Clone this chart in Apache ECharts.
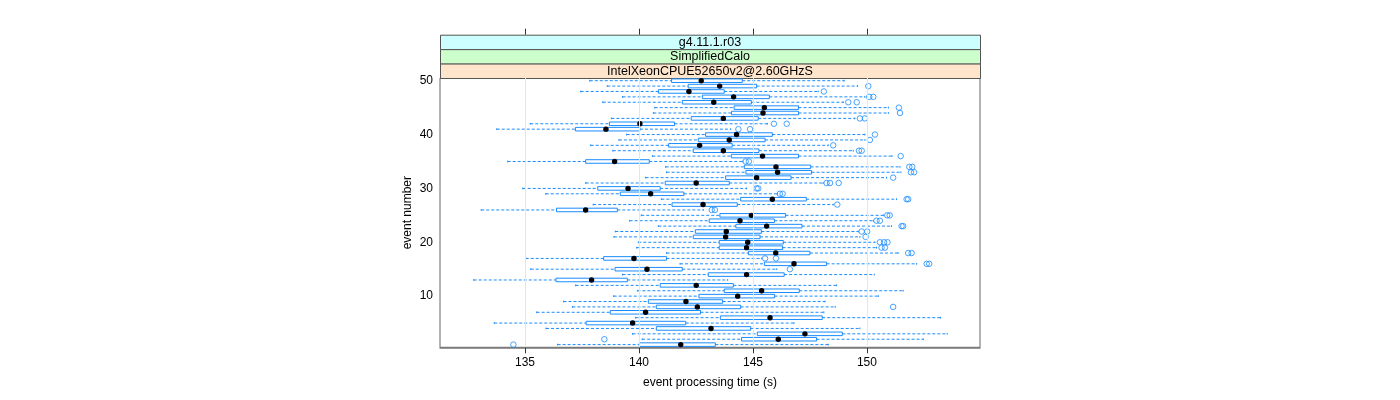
<!DOCTYPE html>
<html>
<head>
<meta charset="utf-8">
<script src="https://cdn.jsdelivr.net/npm/echarts@6/dist/echarts.min.js"></script>
<style>html,body{margin:0;padding:0;background:#fff;}#c{width:1400px;height:400px;}</style>
</head>
<body>
<div id="c"></div>
<script>
// ---- data (event processing time, s) ----
const events = [1,2,3,4,5,6,7,8,9,10,11,12,13,14,15,16,17,18,19,20,21,22,23,24,25,26,27,28,29,30,31,32,33,34,35,36,37,38,39,40,41,42,43,44,45,46,47,48,49,50];
const lowWhisker = [136.43,140.14,139.72,135.92,133.65,139.85,135.51,137.08,136.69,138.89,139.93,137.22,132.75,139.28,135.25,141.80,135.03,141.21,139.90,139.97,138.90,138.96,140.85,139.59,140.10,133.08,137.99,140.98,135.91,134.90,137.66,140.29,141.21,141.17,134.24,140.59,138.85,137.88,139.12,139.46,133.76,135.23,138.79,140.63,140.69,138.41,139.28,137.44,138.61,137.84];
const q1 = [140.01,144.50,145.19,140.76,137.68,143.57,138.74,140.76,140.41,142.63,143.74,140.93,136.36,143.04,138.95,145.50,138.45,144.80,143.52,143.52,142.38,142.47,144.25,143.08,143.55,136.38,141.45,144.46,139.18,138.19,141.15,143.80,144.69,144.62,137.66,144.05,142.38,141.30,142.60,142.92,137.21,138.70,142.29,144.06,144.17,141.90,142.78,140.85,142.16,141.43];
const median = [141.83,146.11,147.28,143.16,139.72,145.75,140.29,142.56,142.06,144.33,145.38,142.51,137.92,144.72,140.35,146.80,139.78,146.00,144.72,144.77,143.80,143.83,145.60,144.43,144.93,137.66,142.81,145.85,140.51,139.52,142.51,145.16,146.08,146.01,138.93,145.42,143.70,142.66,143.96,144.28,138.55,140.04,143.70,145.44,145.50,143.28,144.15,142.19,143.54,142.73];
const q3 = [143.35,147.79,148.92,144.90,142.05,148.04,142.70,144.46,143.67,145.95,147.03,144.14,139.49,146.37,141.90,148.23,141.21,147.50,146.30,146.33,145.31,145.37,147.15,145.94,146.43,139.05,144.31,147.34,141.97,140.93,143.96,146.67,147.57,147.53,140.45,147.00,145.26,144.09,145.53,145.85,140.04,141.56,145.23,147.00,147.00,144.93,145.72,143.74,145.16,144.53];
const highWhisker = [148.30,152.47,153.52,149.69,146.80,153.23,148.11,148.61,148.16,150.50,151.59,148.67,143.89,150.32,146.04,152.18,145.38,151.37,150.42,150.35,149.69,149.62,151.08,150.28,150.72,142.82,148.52,151.30,146.07,144.72,148.08,150.86,151.49,151.45,144.55,151.10,149.40,148.30,149.91,149.91,144.02,145.63,149.47,150.94,150.94,148.96,149.91,147.86,149.59,149.00];
// outliers: [time, event]
const outliers = [
  [134.49,1],[138.48,2],[151.15,8],[146.62,15],[152.62,16],[152.73,16],
  [145.53,17],[146.01,17],[151.81,18],[151.96,18],[150.64,19],[150.79,19],
  [150.57,20],[150.75,20],[150.90,20],[149.94,21],[149.77,22],[150.01,22],
  [151.52,23],[151.59,23],[150.42,24],[150.57,24],[150.89,25],[151.00,25],
  [143.19,26],[143.33,26],[148.70,27],[151.74,28],[151.81,28],[146.18,29],[146.30,29],
  [145.16,30],[145.23,30],[148.23,31],[148.38,31],[148.76,31],[151.15,32],
  [151.93,33],[152.07,33],[151.86,34],[151.99,34],[144.68,35],[144.82,35],
  [151.48,36],[149.65,37],[149.77,37],[148.52,38],[150.13,39],[150.35,40],
  [144.36,41],[144.87,41],[145.92,42],[146.48,42],[149.69,43],[149.91,43],
  [151.45,44],[151.40,45],[149.18,46],[149.55,46],[150.10,47],[150.28,47],
  [148.11,48],[150.06,49]
];
const xTicks = [135,140,145,150];
const yTicks = [10,20,30,40,50];
const stripLabels = ['g4.11.1.r03','SimplifiedCalo','IntelXeonCPUE52650v2@2.60GHzS'];
const stripColors = ['#ccffff','#ccffcc','#ffe5cc'];

const boxData = events.map((e,i)=>[e, lowWhisker[i], q1[i], median[i], q3[i], highWhisker[i]]);

const FONT = "'Liberation Sans', Arial, sans-serif";
const BLUE = '#1a8cff';
const L = 440, R = 980, T = 78, B = 347.3;

function renderBox(params, api) {
  const ev = api.value(0);
  const pLo = api.coord([api.value(1), ev]);
  const pQ1 = api.coord([api.value(2), ev]);
  const pMd = api.coord([api.value(3), ev]);
  const pQ3 = api.coord([api.value(4), ev]);
  const pHi = api.coord([api.value(5), ev]);
  const y = pMd[1];
  const hh = api.size([0, 1])[1] * 0.33;
  const dash = {stroke: BLUE, lineWidth: 1, lineDash: [3, 2]};
  const solid = {stroke: BLUE, lineWidth: 1};
  return {
    type: 'group',
    children: [
      {type: 'line', shape: {x1: pLo[0], y1: y, x2: pQ1[0], y2: y}, style: dash},
      {type: 'line', shape: {x1: pQ3[0], y1: y, x2: pHi[0], y2: y}, style: dash},
      {type: 'line', shape: {x1: pLo[0], y1: y - hh/2, x2: pLo[0], y2: y + hh/2}, style: solid},
      {type: 'line', shape: {x1: pHi[0], y1: y - hh/2, x2: pHi[0], y2: y + hh/2}, style: solid},
      {type: 'rect', shape: {x: pQ1[0], y: y - hh, width: pQ3[0] - pQ1[0], height: 2*hh}, style: {fill: 'rgba(0,0,0,0)', stroke: BLUE, lineWidth: 1}},
      {type: 'circle', shape: {cx: pMd[0], cy: y, r: 2.7}, style: {fill: '#000'}}
    ]
  };
}

const graphics = [];
const stripTop = 34.7, stripH = (T - stripTop) / 3;
for (let i = 0; i < 3; i++) {
  graphics.push({type: 'rect', left: L, top: stripTop + i*stripH, shape: {x: 0, y: 0, width: R - L, height: stripH},
    style: {fill: stripColors[i], stroke: '#555', lineWidth: 1}, silent: true});
  graphics.push({type: 'text', style: {text: stripLabels[i], x: (L+R)/2, y: stripTop + i*stripH + stripH/2 + 0.5,
    fill: '#000', font: '12.5px ' + FONT, textAlign: 'center', textVerticalAlign: 'middle'}, silent: true});
}

const chart = echarts.init(document.getElementById('c'));
chart.setOption({
  animation: false,
  backgroundColor: '#fff',
  grid: {left: L, top: T, width: R - L, height: B - T, show: true, borderColor: '#666', borderWidth: 1, backgroundColor: 'rgba(0,0,0,0)'},
  xAxis: [
    {type: 'value', min: 131.27, max: 154.96, position: 'bottom',
     axisLine: {show: true, lineStyle: {color: '#777', width: 1.5}},
     axisTick: {show: true, length: 6, customValues: xTicks, lineStyle: {color: '#333'}},
     axisLabel: {customValues: xTicks, color: '#000', fontSize: 12, fontFamily: FONT, margin: 9},
     splitLine: {show: false},
     name: 'event processing time (s)', nameLocation: 'middle', nameGap: 29,
     nameTextStyle: {color: '#000', fontSize: 12, fontFamily: FONT}},
    {type: 'value', min: 131.27, max: 154.96, position: 'top', offset: T - stripTop,
     axisLine: {show: false},
     axisTick: {show: true, length: 6, customValues: xTicks, lineStyle: {color: '#333'}},
     axisLabel: {show: false, customValues: xTicks},
     splitLine: {show: false}}
  ],
  yAxis: {type: 'value', min: 0.5, max: 50.5,
    axisLine: {show: false}, axisTick: {show: false},
    axisLabel: {customValues: yTicks, color: '#000', fontSize: 12, fontFamily: FONT, margin: 7},
    splitLine: {show: false},
    name: 'event number', nameLocation: 'middle', nameGap: 26, nameRotate: 90,
    nameTextStyle: {color: '#000', fontSize: 12, fontFamily: FONT}},
  graphic: graphics,
  series: [
    {type: 'line', data: [], z: 1, silent: true,
     markLine: {silent: true, symbol: 'none', animation: false, label: {show: false},
       lineStyle: {color: '#e6e6e6', type: 'solid', width: 1},
       data: xTicks.map(v => ({xAxis: v}))}},
    {type: 'custom', renderItem: renderBox, data: boxData, z: 3,
     encode: {x: [1,2,3,4,5], y: 0}},
    {type: 'scatter', data: outliers, z: 4, symbol: 'circle', symbolSize: 5.5,
     itemStyle: {color: 'rgba(0,0,0,0)', borderColor: BLUE, borderWidth: 1}}
  ]
});
</script>
</body>
</html>
